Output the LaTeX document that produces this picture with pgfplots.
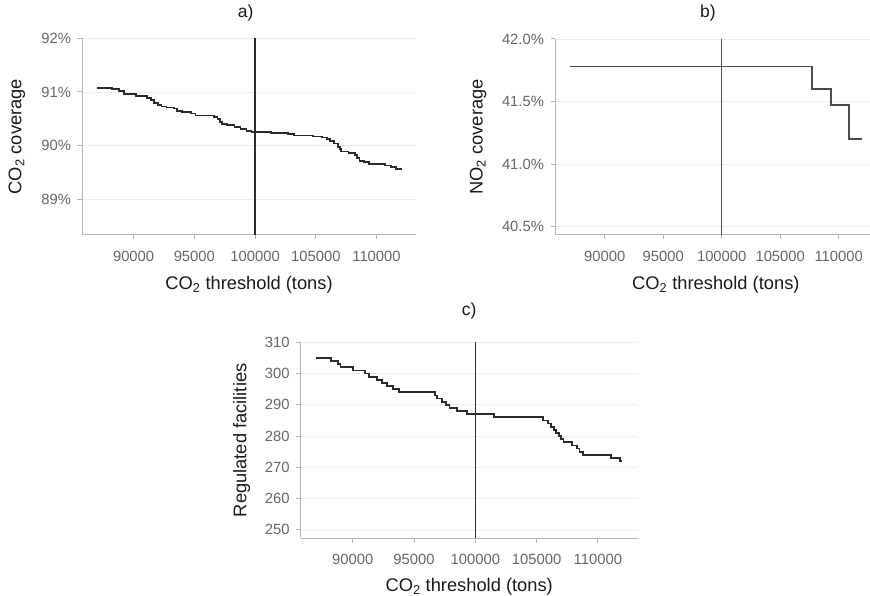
\documentclass[border=0pt]{standalone}
\usepackage{pgfplots}
\pgfplotsset{compat=1.18}
\usepackage{fontspec}
\setmainfont{Liberation Sans}

\definecolor{tickgray}{HTML}{666666}
\definecolor{axisgray}{HTML}{B5B5B5}
\definecolor{gridgray}{HTML}{EDEDED}
\definecolor{labelblack}{HTML}{1A1A1A}
\definecolor{linedark}{HTML}{2B2B2B}

\pgfplotsset{
  panel/.style={
    scale only axis,
    axis x line=bottom, axis y line=left,
    axis line style={-, draw=axisgray, line width=1pt},
    tick style={draw=axisgray, line width=1pt},
    tick align=outside, major tick length=4.5pt,
    xmin=85750, xmax=113250,
    xtick={90000,95000,100000,105000,110000},
    xticklabel={\pgfmathprintnumber[fixed,precision=0]{\tick}},
    ymajorgrids, major grid style={draw=gridgray, line width=0.7pt},
    tick label style={font=\fontsize{14.8}{17}\selectfont, text=tickgray},
    xticklabel style={yshift=-8pt},
    yticklabel style={xshift=-3pt},
    label style={font=\fontsize{18.3}{21}\selectfont, text=labelblack},
    title style={font=\fontsize{17.5}{20}\selectfont, text=labelblack, anchor=center},
    /pgf/number format/assume math mode=true,
    /pgf/number format/fixed,
    /pgf/number format/set thousands separator={},
    scaled x ticks=false, scaled y ticks=false,
    xlabel={CO\textsubscript{2} threshold (tons)},
  },
  stepline/.style={const plot, line width=1.8pt, color=linedark},
  vline/.style={line width=1.4pt, color=linedark},
}

\begin{document}
\begin{tikzpicture}
\path[use as bounding box] (0pt,0pt) rectangle (870pt,596pt);

% a) CO2 coverage
\begin{axis}[panel, at={(82pt,361pt)}, anchor=south west,
  width=334pt, height=196.7pt,
  ymin=88.335, ymax=92, ytick={89,90,91,92},
  yticklabel={\pgfmathprintnumber[fixed,precision=0]{\tick}\%},
  ylabel={CO\textsubscript{2} coverage},
  ylabel style={at={(axis description cs:-0.195,0.5)}, anchor=center},
  xlabel style={at={(axis description cs:0.5,-0.254)}, anchor=center},
  title={a)}, title style={at={(axis description cs:0.49,1.10)}},
]
\addplot[stepline] coordinates {
  (87000,91.08) (88200,91.05) (88800,91.02) (89200,90.96) (90200,90.92)
  (91100,90.89) (91400,90.85) (91700,90.80) (92000,90.76) (92300,90.73)
  (92700,90.71) (93300,90.69) (93600,90.65) (94000,90.62) (94700,90.60)
  (95100,90.56) (96600,90.53) (96900,90.49) (97100,90.44) (97300,90.41)
  (97700,90.38) (98300,90.35) (98800,90.31) (99300,90.28) (99700,90.26)
  (101300,90.24) (102700,90.21) (103200,90.19) (104800,90.17) (105500,90.15)
  (105900,90.12) (106200,90.08) (106500,90.04) (106800,89.98) (107000,89.93)
  (107100,89.89) (107700,89.86) (108200,89.82) (108400,89.77) (108600,89.72)
  (109000,89.69) (109400,89.66) (110700,89.63) (111200,89.60) (111600,89.57)
  (112000,89.55)
};
\addplot[vline] coordinates {(100000,88.335) (100000,92)};
\end{axis}

% b) NO2 coverage
\begin{axis}[panel, at={(555pt,361pt)}, anchor=south west,
  width=321.75pt, height=196pt,
  ymin=40.434, ymax=42.0, ytick={40.5,41.0,41.5,42.0},
  yticklabel={\pgfmathprintnumber[fixed,fixed zerofill,precision=1]{\tick}\%},
  ylabel={NO\textsubscript{2} coverage},
  ylabel style={at={(axis description cs:-0.239,0.5)}, anchor=center},
  xlabel style={at={(axis description cs:0.5,-0.255)}, anchor=center},
  title={b)}, title style={at={(axis description cs:0.475,1.10)}},
]
\addplot[const plot, line width=1.9pt, color=black!70] coordinates {
  (87000,41.78) (107750,41.60) (109350,41.47) (110900,41.20) (112000,41.20)
};
\addplot[line width=1.4pt, color=black!70] coordinates {(100000,40.434) (100000,42.0)};
\end{axis}

% c) Regulated facilities
\begin{axis}[panel, at={(300.7pt,57.7pt)}, anchor=south west,
  width=337pt, height=196pt,
  ymin=247.3, ymax=310, ytick={250,260,270,280,290,300,310},
  yticklabel={\pgfmathprintnumber[fixed,precision=0]{\tick}},
  ylabel={Regulated facilities},
  ylabel style={at={(axis description cs:-0.175,0.5)}, anchor=center},
  xlabel style={at={(axis description cs:0.5,-0.247)}, anchor=center},
  title={c)}, title style={at={(axis description cs:0.5,1.128)}},
]
\addplot[stepline] coordinates {
  (87000,305) (88200,304) (88800,303) (89000,302) (90000,301) (91000,300)
  (91300,299) (92000,298) (92400,297) (92800,296) (93300,295) (93800,294)
  (96700,293) (96900,292) (97300,291) (97600,290) (97900,289) (98500,288)
  (99300,287) (101500,286) (105500,285) (105900,284) (106200,283) (106400,282)
  (106600,281) (106800,280) (107000,279) (107200,278) (107900,277) (108300,276)
  (108500,275) (108800,274) (111100,273) (111800,272) (112000,272)
};
\addplot[vline] coordinates {(100000,247.3) (100000,310)};
\end{axis}
\end{tikzpicture}
\end{document}
